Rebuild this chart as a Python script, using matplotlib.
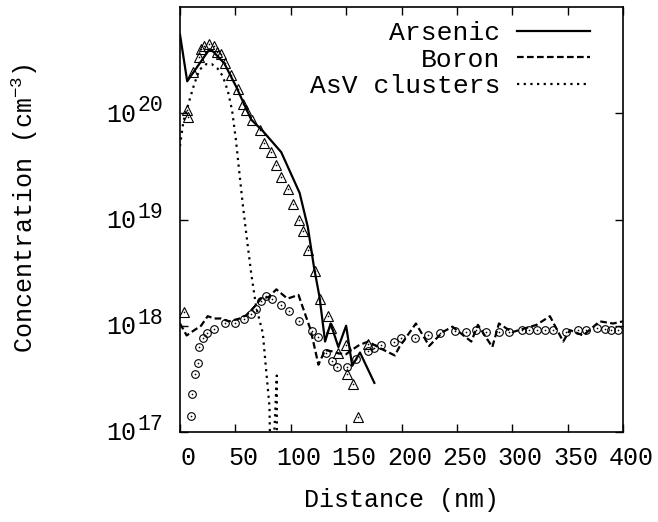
import numpy as np
import matplotlib
matplotlib.use("Agg")
import matplotlib.pyplot as plt
import matplotlib.transforms as mtransforms
from matplotlib.ticker import NullLocator

# ---- Data ----
arsenic_x = [0, 6.5, 26.6, 30, 40, 50.7, 64.3, 74.8, 91.4, 108, 115.4, 121, 126,
             131, 136, 143, 150, 155.5, 162.5, 175.5]
arsenic_y = [5.5e20, 2.0e20, 4.0e20, 3.8e20, 2.95e20, 1.78e20, 8.7e19, 6.8e19, 4.3e19,
             1.78e19, 8.5e18, 3.55e18, 1.86e18, 7.1e17, 1.05e18, 6.3e17, 1.0e18,
             4.2e17, 5.6e17, 2.9e17]

boron_x = [0, 6, 13, 19, 25, 31, 37, 44, 54, 60, 67, 73, 80, 87, 97, 107, 118, 125,
           131, 137, 143, 150, 156, 162, 170, 180, 194, 198, 213, 225, 237, 246, 263,
           269, 282, 288, 300, 322, 334, 346, 352, 364, 379, 391, 400]
boron_y = [1.05e18, 8.1e17, 9.1e17, 1.0e18, 1.23e18, 1.17e18, 1.17e18, 1.1e18, 1.17e18,
           1.26e18, 1.5e18, 1.8e18, 1.86e18, 2.2e18, 1.8e18, 1.95e18, 9.1e17, 4.3e17,
           5.9e17, 5.75e17, 5.5e17, 5.4e17, 6.0e17, 6.6e17, 7.1e17, 6.2e17, 5.25e17,
           6.3e17, 1.05e18, 6.45e17, 8.7e17, 9.8e17, 7.1e17, 1.02e18, 6.3e17, 1.05e18,
           8.7e17, 1.02e18, 1.23e18, 7.1e17, 9.1e17, 8.1e17, 1.1e18, 1.05e18, 1.1e18]

asv_x = [0, 3, 8.5, 13, 17.6, 23.7, 28.7, 34, 38.6, 43.2, 47, 50.5, 53.7, 56.6, 59.8,
         64.3, 68.8, 74.8, 77.8, 80.8, 82.5, 85.0, 87.4, 87.7]
asv_y = [4.9e19, 8.3e19, 1.32e20, 1.9e20, 2.57e20, 2.9e20, 2.9e20, 2.63e20, 2.24e20,
         1.62e20, 1.07e20, 5.6e19, 2.7e19, 1.41e19, 7.4e18, 3.1e18, 1.5e18, 8.5e17,
         3.8e17, 1.74e17, 1.0e16, 9.0e16, 3.4e17, 1.0e16]

as_sims_x = [4, 6.5, 7, 12, 17, 19, 22, 26.5, 30.5, 33.5, 37, 41, 46, 52, 57, 60, 65,
             72, 76, 82, 87, 91.5, 97.5, 102, 107, 111, 116, 121.5, 126.5, 133.5, 136.5,
             142.5, 150, 151, 156, 161, 169.5]
as_sims_y = [1.35e18, 1.07e20, 9.3e19, 2.45e20, 3.4e20, 4.0e20, 4.25e20, 4.45e20,
             4.25e20, 3.8e20, 3.6e20, 2.95e20, 2.3e20, 1.7e20, 1.23e20, 1.07e20, 8.7e19,
             6.9e19, 5.25e19, 4.35e19, 3.25e19, 2.5e19, 1.95e19, 1.4e19, 1.0e19, 7.8e18,
             5.2e18, 3.25e18, 1.8e18, 1.23e18, 9.5e17, 5.5e17, 6.6e17, 3.5e17, 2.8e17,
             1.38e17, 6.8e17]

b_sims_x = [9.5, 11, 13.7, 16, 17.5, 20.6, 24.5, 31, 41, 50, 57.5, 64.5, 69, 73, 77.5,
            83, 91.5, 98.5, 107, 119, 125, 131.5, 137, 142, 151, 159, 169.5, 175.5,
            181.5, 193.5, 199.5, 212, 224, 234.5, 248, 258.5, 267.5, 276, 288, 297, 309,
            315.5, 322, 330, 336.5, 348.5, 359, 367, 376.5, 383.5, 389.5, 395.5]
b_sims_y = [1.41e17, 2.3e17, 3.55e17, 4.5e17, 6.3e17, 7.6e17, 8.5e17, 9.3e17, 1.05e18,
            1.07e18, 1.15e18, 1.29e18, 1.45e18, 1.7e18, 1.9e18, 1.78e18, 1.58e18,
            1.38e18, 1.12e18, 8.9e17, 7.8e17, 5.6e17, 4.7e17, 4.1e17, 4.1e17, 4.9e17,
            5.75e17, 6.2e17, 6.6e17, 7.1e17, 7.6e17, 7.6e17, 8.1e17, 8.5e17, 8.9e17,
            8.7e17, 9.1e17, 8.7e17, 8.7e17, 8.7e17, 9.1e17, 9.1e17, 9.1e17, 9.1e17,
            9.1e17, 8.7e17, 9.1e17, 9.1e17, 9.5e17, 9.3e17, 9.1e17, 9.1e17]

x_ticks = [0, 50, 100, 150, 200, 250, 300, 350, 400]
y_ticks = [1e17, 1e18, 1e19, 1e20]
y_tick_exponents = ['17', '18', '19', '20']
series_labels = ['Arsenic', 'Boron', 'AsV clusters']

# ---- Style ----
plt.rcParams['font.family'] = ['Liberation Mono', 'DejaVu Sans']
plt.rcParams['mathtext.fontset'] = 'custom'
plt.rcParams['mathtext.rm'] = 'Liberation Mono'
plt.rcParams['mathtext.it'] = 'Liberation Mono'
plt.rcParams['mathtext.bf'] = 'Liberation Mono'
plt.rcParams['mathtext.default'] = 'rm'

LFS = 19   # legend
AFS = 18   # axis labels
TFS = 18   # tick labels

fig = plt.figure(figsize=(6.58, 5.22), dpi=100)
ax = fig.add_axes([180 / 658, 1 - 432 / 522, 443 / 658, 425 / 522])

ax.plot(arsenic_x, arsenic_y, color='black', lw=1.6, label=series_labels[0])
ax.plot(boron_x, boron_y, color='black', lw=1.6, dashes=(3, 1.5), label=series_labels[1])
ax.plot(asv_x, asv_y, color='black', lw=1.6, dashes=(1, 2), label=series_labels[2])

ax.plot(as_sims_x, as_sims_y, ls='none', marker='^', ms=7, mfc='none',
        mec='black', mew=0.8)
ax.plot(as_sims_x, as_sims_y, ls='none', marker='o', ms=1.2, color='black', mew=0)
ax.plot(b_sims_x, b_sims_y, ls='none', marker='o', ms=5.5, mfc='none',
        mec='black', mew=0.8)
ax.plot(b_sims_x, b_sims_y, ls='none', marker='o', ms=1.2, color='black', mew=0)

ax.set_yscale('log')
ax.set_xlim(0, 400)
ax.set_ylim(1e17, 1e21)
ax.set_xticks(x_ticks)
ax.set_xticklabels([str(t) for t in x_ticks])
ax.set_yticks(y_ticks)
ax.set_yticklabels([''] * len(y_ticks))
ax.yaxis.set_minor_locator(NullLocator())
ax.xaxis.set_minor_locator(NullLocator())
ax.tick_params(direction='in', length=6, width=1, top=True, right=True,
               labelsize=TFS, colors='black')
ax.tick_params(axis='x', pad=10)
for s in ax.spines.values():
    s.set_linewidth(1.2)

# x tick labels sit slightly right of their ticks in the reference
shift = mtransforms.ScaledTranslation(8 / 100, 0, fig.dpi_scale_trans)
for lab in ax.get_xticklabels():
    lab.set_transform(lab.get_transform() + shift)

# y tick labels: "10" with a large raised exponent
ytrans = mtransforms.blended_transform_factory(ax.transAxes, ax.transData)
for val, ex in zip(y_ticks, y_tick_exponents):
    ax.annotate('10', xy=(0, val), xycoords=ytrans, xytext=(-44 * 0.72, -1.5 * 0.72),
                textcoords='offset points', ha='right', va='center', fontsize=TFS,
                annotation_clip=False)
    ax.annotate(ex, xy=(0, val), xycoords=ytrans, xytext=(-17 * 0.72, 7.5 * 0.72),
                textcoords='offset points', ha='right', va='center', fontsize=15.5,
                annotation_clip=False)

ax.set_xlabel('Distance (nm)', fontsize=AFS, labelpad=13)
ax.set_ylabel(r'Concentration (cm$^{-3}$)', fontsize=AFS)
ax.yaxis.set_label_coords(-0.315, 0.526)

leg = ax.legend(loc='upper right', bbox_to_anchor=(0.9255, 0.967), frameon=False,
                markerfirst=False, fontsize=LFS, handlelength=2.75, handletextpad=0.65,
                labelspacing=0.1, borderaxespad=0, borderpad=0)

fig.savefig('out.png', dpi=100)
